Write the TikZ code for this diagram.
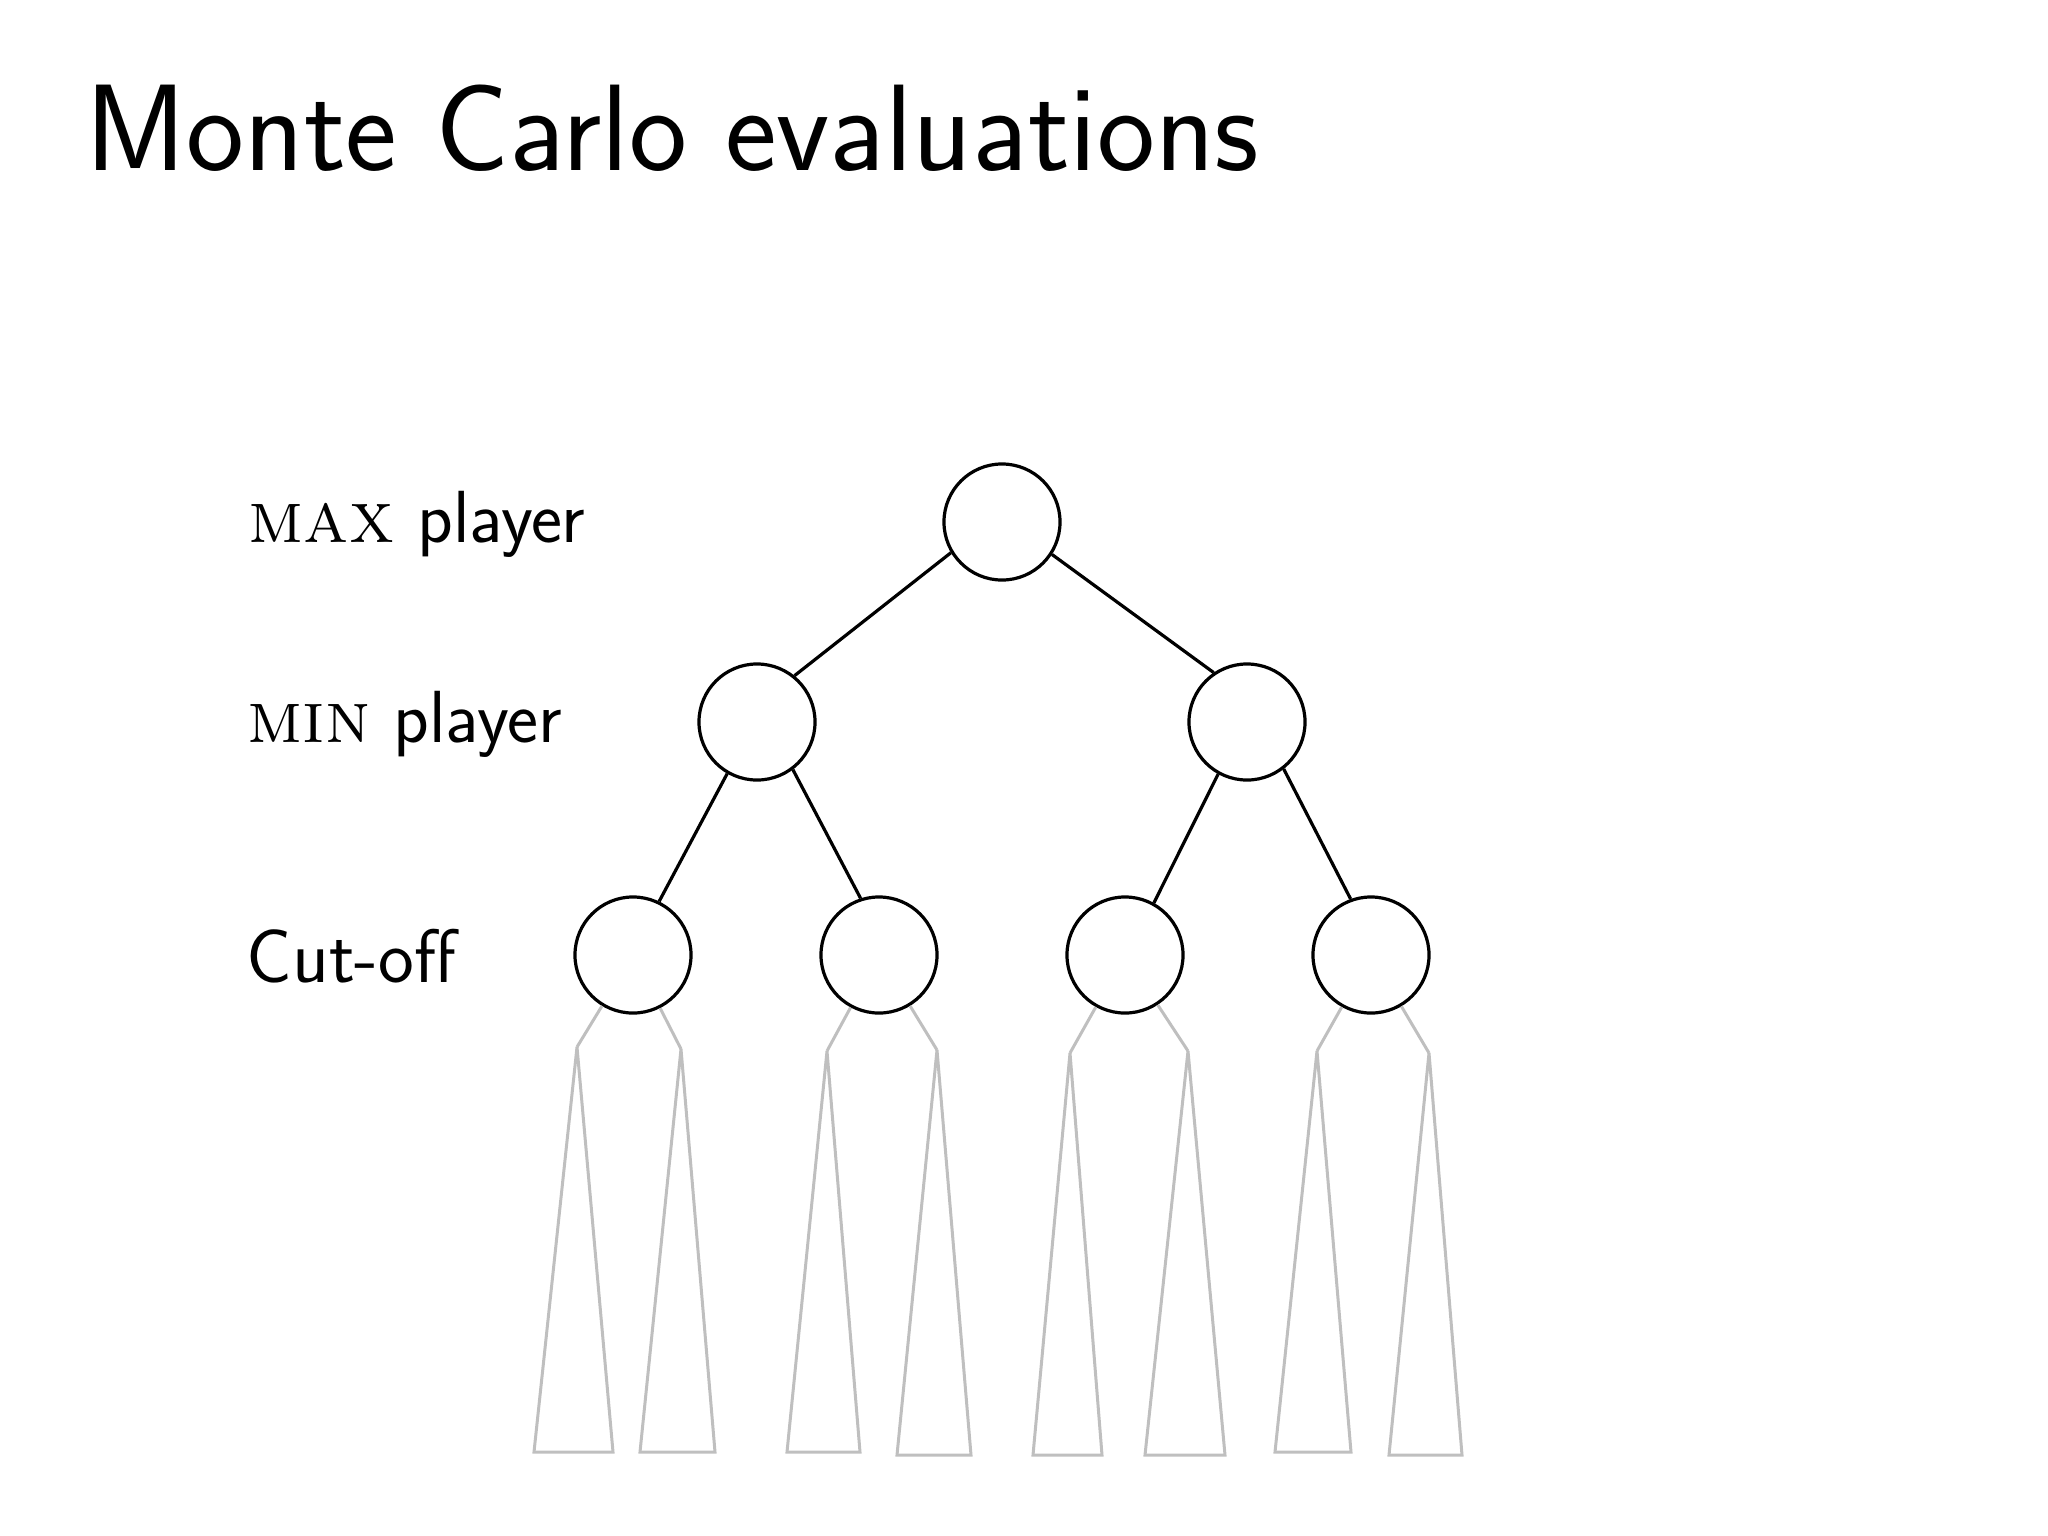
\documentclass[tikz,border=0pt]{standalone}
\begin{document}
\begin{tikzpicture}[x=0.01cm,y=-0.01cm,
  treenode/.style={circle,draw=black,line width=0.032cm,minimum size=1.16cm,inner sep=0pt},
  treeedge/.style={draw=black,line width=0.032cm},
  subedge/.style={draw=black!25,line width=0.03cm},
  subtri/.style={draw=black!25,line width=0.03cm,line join=miter},
  lbl/.style={anchor=base west,inner sep=0pt,font=\fontsize{21pt}{25pt}\selectfont\sffamily},
  ttl/.style={anchor=base west,inner sep=0pt,font=\fontsize{35pt}{42pt}\selectfont\sffamily}]
\useasboundingbox (0,0) rectangle (2048,1536);

\node[ttl] (title) at (85,170) {Monte Carlo evaluations};

\node[lbl] (lmax) at (248,542) {{\rmfamily\textsc{max}} player};
\node[lbl] (lmin) at (247,742) {{\rmfamily\textsc{min}} player};
\node[lbl,font=\fontsize{21.6pt}{26pt}\selectfont\sffamily] (lcut) at (246,982) {Cut-off};

\node[treenode] (root) at (1002,522) {};
\node[treenode] (m1) at (757,722) {};
\node[treenode] (m2) at (1247,722) {};
\node[treenode] (c1) at (633,955) {};
\node[treenode] (c2) at (879,955) {};
\node[treenode] (c3) at (1125,955) {};
\node[treenode] (c4) at (1371,955) {};

\draw[treeedge] (root.-149) -- (m1.51);
\draw[treeedge] (root.-33) -- (m2.124);
\draw[treeedge] (m1.-120) -- (c1.64);
\draw[treeedge] (m1.-53) -- (c2.108);
\draw[treeedge] (m2.-119) -- (c3.61);
\draw[treeedge] (m2.-52) -- (c4.110);

% apexes of the subtrees
\coordinate (a1) at (577,1047);
\coordinate (a2) at (681,1049);
\coordinate (a3) at (827,1051);
\coordinate (a4) at (937,1050);
\coordinate (a5) at (1070,1053);
\coordinate (a6) at (1188,1051);
\coordinate (a7) at (1317,1051);
\coordinate (a8) at (1429,1053);

\draw[subedge] (c1) -- (a1);
\draw[subedge] (c1) -- (a2);
\draw[subedge] (c2) -- (a3);
\draw[subedge] (c2) -- (a4);
\draw[subedge] (c3) -- (a5);
\draw[subedge] (c3) -- (a6);
\draw[subedge] (c4) -- (a7);
\draw[subedge] (c4) -- (a8);

\draw[subtri] (a1) -- (534,1452) -- (613,1452) -- cycle;
\draw[subtri] (a2) -- (640,1452) -- (715,1452) -- cycle;
\draw[subtri] (a3) -- (787,1452) -- (860,1452) -- cycle;
\draw[subtri] (a4) -- (897,1455) -- (971,1455) -- cycle;
\draw[subtri] (a5) -- (1033,1455) -- (1102,1455) -- cycle;
\draw[subtri] (a6) -- (1145,1455) -- (1225,1455) -- cycle;
\draw[subtri] (a7) -- (1275,1452) -- (1351,1452) -- cycle;
\draw[subtri] (a8) -- (1389,1455) -- (1462,1455) -- cycle;
\end{tikzpicture}
\end{document}
